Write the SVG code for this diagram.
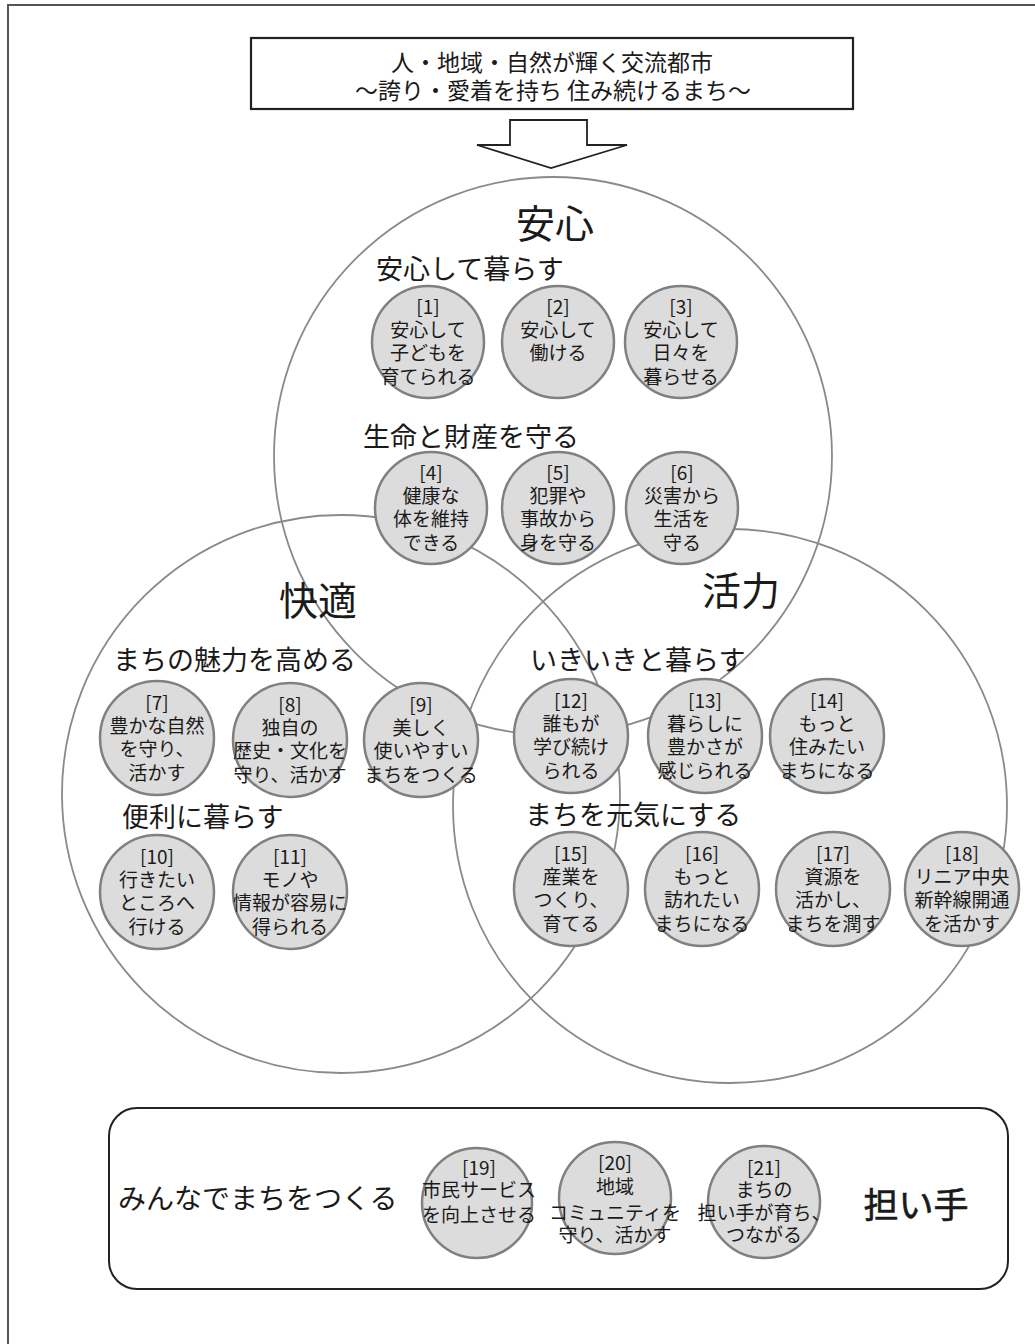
<svg xmlns="http://www.w3.org/2000/svg" width="1035" height="1344" viewBox="0 0 1035 1344">
<style>
text{font-family:"Noto Sans CJK JP","Noto Sans",sans-serif;fill:#1a1a1a}
.big{fill:none;stroke:#8a8a8a;stroke-width:1.8}
.sn{fill:#dcdcdc;stroke:#808080;stroke-width:2.5}
.c{font-size:19px;text-anchor:middle}
.sec{font-size:27px}
.ttl{font-size:39px;text-anchor:middle}
.hd{font-size:23px;text-anchor:middle}
</style>
<rect width="1035" height="1344" fill="#fff"/>
<path d="M8,1344 V5 H1035" fill="none" stroke="#555" stroke-width="2"/>

<g id="vision">
<rect x="251" y="38" width="602" height="71" fill="#fff" stroke="#222" stroke-width="2.2"/>
<text class="hd" x="552" y="71">人・地域・自然が輝く交流都市</text>
<text class="hd" x="553" y="99">～誇り・愛着を持ち 住み続けるまち～</text>
</g>

<g id="connectors">
<polygon points="510,120 587,120 587,145 627,145 551,168 477,145 510,145" fill="#fff" stroke="#222" stroke-width="1.8"/>
</g>

<g id="anshin">
<circle class="big" cx="553" cy="456" r="279"/>
<text class="ttl" x="555" y="238">安心</text>
</g>
<g id="kaiteki">
<circle class="big" cx="341" cy="794" r="279"/>
<text class="ttl" x="318" y="615">快適</text>
</g>
<g id="katsuryoku">
<circle class="big" cx="730" cy="806" r="277"/>
<text class="ttl" x="741" y="605">活力</text>
</g>

<g id="sec-anshin-kurasu"><text class="sec" x="376" y="279">安心して暮らす</text></g>
<g id="sec-seimei"><text class="sec" x="363" y="447">生命と財産を守る</text></g>
<g id="sec-miryoku"><text class="sec" x="113" y="670">まちの魅力を高める</text></g>
<g id="sec-benri"><text class="sec" x="122" y="827">便利に暮らす</text></g>
<g id="sec-ikiiki"><text class="sec" x="530" y="670">いきいきと暮らす</text></g>
<g id="sec-genki"><text class="sec" x="525" y="825">まちを元気にする</text></g>

<g id="n1"><circle class="sn" cx="428" cy="342" r="56"/>
<text class="c" x="428" y="314">[1]</text><text class="c" x="428" y="337">安心して</text><text class="c" x="428" y="360">子どもを</text><text class="c" x="428" y="384">育てられる</text></g>
<g id="n2"><circle class="sn" cx="558" cy="342" r="56"/>
<text class="c" x="558" y="314">[2]</text><text class="c" x="558" y="337">安心して</text><text class="c" x="558" y="360">働ける</text></g>
<g id="n3"><circle class="sn" cx="681" cy="342" r="56"/>
<text class="c" x="681" y="314">[3]</text><text class="c" x="681" y="337">安心して</text><text class="c" x="681" y="360">日々を</text><text class="c" x="681" y="384">暮らせる</text></g>

<g id="n4"><circle class="sn" cx="431" cy="508" r="56"/>
<text class="c" x="431" y="480">[4]</text><text class="c" x="431" y="503">健康な</text><text class="c" x="431" y="526">体を維持</text><text class="c" x="431" y="550">できる</text></g>
<g id="n5"><circle class="sn" cx="558" cy="508" r="56"/>
<text class="c" x="558" y="480">[5]</text><text class="c" x="558" y="503">犯罪や</text><text class="c" x="558" y="526">事故から</text><text class="c" x="558" y="550">身を守る</text></g>
<g id="n6"><circle class="sn" cx="682" cy="508" r="56"/>
<text class="c" x="682" y="480">[6]</text><text class="c" x="682" y="503">災害から</text><text class="c" x="682" y="526">生活を</text><text class="c" x="682" y="550">守る</text></g>

<g id="n7"><circle class="sn" cx="157" cy="738" r="57"/>
<text class="c" x="157" y="710">[7]</text><text class="c" x="157" y="733">豊かな自然</text><text class="c" x="157" y="756">を守り、</text><text class="c" x="157" y="780">活かす</text></g>
<g id="n8"><circle class="sn" cx="290" cy="740" r="57"/>
<text class="c" x="290" y="712">[8]</text><text class="c" x="290" y="735">独自の</text><text class="c" x="290" y="758">歴史・文化を</text><text class="c" x="290" y="782">守り、活かす</text></g>
<g id="n9"><circle class="sn" cx="421" cy="740" r="57"/>
<text class="c" x="421" y="712">[9]</text><text class="c" x="421" y="735">美しく</text><text class="c" x="421" y="758">使いやすい</text><text class="c" x="421" y="782">まちをつくる</text></g>

<g id="n10"><circle class="sn" cx="157" cy="892" r="57"/>
<text class="c" x="157" y="864">[10]</text><text class="c" x="157" y="887">行きたい</text><text class="c" x="157" y="910">ところへ</text><text class="c" x="157" y="934">行ける</text></g>
<g id="n11"><circle class="sn" cx="290" cy="892" r="57"/>
<text class="c" x="290" y="864">[11]</text><text class="c" x="290" y="887">モノや</text><text class="c" x="290" y="910">情報が容易に</text><text class="c" x="290" y="934">得られる</text></g>

<g id="n12"><circle class="sn" cx="571" cy="736" r="57"/>
<text class="c" x="571" y="708">[12]</text><text class="c" x="571" y="731">誰もが</text><text class="c" x="571" y="754">学び続け</text><text class="c" x="571" y="778">られる</text></g>
<g id="n13"><circle class="sn" cx="705" cy="736" r="57"/>
<text class="c" x="705" y="708">[13]</text><text class="c" x="705" y="731">暮らしに</text><text class="c" x="705" y="754">豊かさが</text><text class="c" x="705" y="778">感じられる</text></g>
<g id="n14"><circle class="sn" cx="827" cy="736" r="57"/>
<text class="c" x="827" y="708">[14]</text><text class="c" x="827" y="731">もっと</text><text class="c" x="827" y="754">住みたい</text><text class="c" x="827" y="778">まちになる</text></g>

<g id="n15"><circle class="sn" cx="571" cy="889" r="57"/>
<text class="c" x="571" y="861">[15]</text><text class="c" x="571" y="884">産業を</text><text class="c" x="571" y="907">つくり、</text><text class="c" x="571" y="931">育てる</text></g>
<g id="n16"><circle class="sn" cx="702" cy="889" r="57"/>
<text class="c" x="702" y="861">[16]</text><text class="c" x="702" y="884">もっと</text><text class="c" x="702" y="907">訪れたい</text><text class="c" x="702" y="931">まちになる</text></g>
<g id="n17"><circle class="sn" cx="833" cy="889" r="57"/>
<text class="c" x="833" y="861">[17]</text><text class="c" x="833" y="884">資源を</text><text class="c" x="833" y="907">活かし、</text><text class="c" x="833" y="931">まちを潤す</text></g>
<g id="n18"><circle class="sn" cx="962" cy="889" r="57"/>
<text class="c" x="962" y="861">[18]</text><text class="c" x="962" y="884">リニア中央</text><text class="c" x="962" y="907">新幹線開通</text><text class="c" x="962" y="931">を活かす</text></g>

<g id="ninaite">
<rect x="109" y="1108" width="899" height="181" rx="28" fill="none" stroke="#222" stroke-width="2"/>
<text class="sec" x="118" y="1209" style="font-size:28px">みんなでまちをつくる</text>
<text x="916" y="1218" style="font-size:35px;text-anchor:middle;stroke:#1a1a1a;stroke-width:0.6">担い手</text>
</g>
<g id="n19"><circle class="sn" cx="477" cy="1203" r="55"/>
<text class="c" x="479" y="1175">[19]</text><text class="c" x="479" y="1197">市民サービス</text><text class="c" x="479" y="1222">を向上させる</text></g>
<g id="n20"><circle class="sn" cx="615" cy="1198" r="56"/>
<text class="c" x="615" y="1170">[20]</text><text class="c" x="615" y="1194">地域</text><text class="c" x="615" y="1220">コミュニティを</text><text class="c" x="615" y="1242">守り、活かす</text></g>
<g id="n21"><circle class="sn" cx="764" cy="1202" r="56"/>
<text class="c" x="764" y="1175">[21]</text><text class="c" x="764" y="1197">まちの</text><text class="c" x="764" y="1220">担い手が育ち、</text><text class="c" x="764" y="1242">つながる</text></g>
</svg>
